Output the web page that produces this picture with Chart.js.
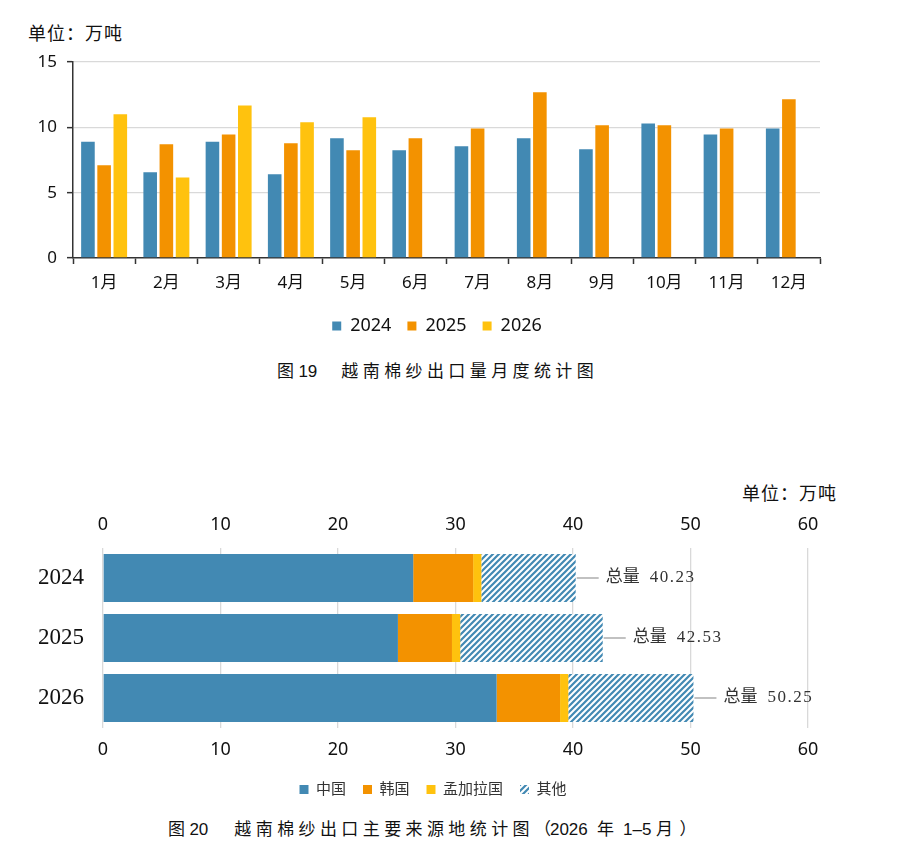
<!DOCTYPE html>
<html>
<head>
<meta charset="utf-8">
<script src="https://cdn.jsdelivr.net/npm/chart.js@4.4.1/dist/chart.umd.min.js"></script>
<style>
  html, body { margin: 0; padding: 0; background: #ffffff; }
  body { width: 897px; height: 850px; position: relative; overflow: hidden; }
  .abs { position: absolute; white-space: nowrap; color: #111; }
  .unit { font-family: "Noto Sans CJK SC", sans-serif; font-size: 18px; letter-spacing: 1px; line-height: 24px; }
  .cap { font-family: "Liberation Sans", "Noto Sans CJK SC", sans-serif; font-size: 17px; letter-spacing: 4.4px; line-height: 24px; }
  .num { letter-spacing: 0; }
  .tight { letter-spacing: -1px; }
  canvas { position: absolute; left: 0; }
</style>
</head>
<body>
<div class="abs unit" style="left:28px; top:20px;">单位：万吨</div>
<canvas id="c1" width="897" height="345" style="top:0px;"></canvas>
<div class="abs cap" style="left:277px; top:360px;">图<span class="num">19</span><span style="margin-left:24px;">越南棉纱出口量月度统计图</span></div>

<div class="abs unit" style="left:742px; top:480px;">单位：万吨</div>
<canvas id="c2" width="897" height="336" style="top:471px;"></canvas>
<div class="abs cap" style="left:168px; top:818px;">图<span class="num">20</span><span style="margin-left:26px;">越南棉纱出口主要来源地统计图<span class="tight">（</span><span class="num">2026</span> 年<span class="num">&nbsp;1–5&nbsp;</span>月<span style="margin-left:2px;">）</span></span></div>

<script>
// ---------- Chart 19 data: monthly cotton-yarn exports (10k tonnes) ----------
const months = ['1月', '2月', '3月', '4月', '5月', '6月', '7月', '8月', '9月', '10月', '11月', '12月'];
const seriesNames = ['2024', '2025', '2026'];
const exports2024 = [8.9, 6.56, 8.9, 6.4, 9.16, 8.24, 8.55, 9.16, 8.32, 10.3, 9.46, 9.92];
const exports2025 = [7.1, 8.7, 9.46, 8.78, 8.24, 9.16, 9.92, 12.68, 10.15, 10.15, 9.92, 12.14];
const exports2026 = [11.0, 6.17, 11.68, 10.38, 10.77, null, null, null, null, null, null, null];
const yTicks1 = [0, 5, 10, 15];

// ---------- Chart 20 data: main destinations, Jan–May ----------
const periods = ['2024', '2025', '2026'];
const originNames = ['中国', '韩国', '孟加拉国', '其他'];
const chinaVals = [26.4, 25.1, 33.5];
const koreaVals = [5.1, 4.6, 5.4];
const bangladeshVals = [0.7, 0.7, 0.7];
const otherVals = [8.03, 12.13, 10.65];
const totalVals = [40.23, 42.53, 50.25];
const xTicks2 = [0, 10, 20, 30, 40, 50, 60];

// ---------- styles ----------
const BLUE = '#4289B3';
const ORANGE = '#F39200';
const YELLOW = '#FFC20E';
const SANS = '"Noto Sans", "Noto Sans CJK SC", sans-serif';
const SERIF = '"Liberation Serif", "Noto Sans CJK SC", serif';
const AXIS = '#333333';
const GRID = '#d9d9d9';

function hatch(color) {
  const s = 6;
  const c = document.createElement('canvas');
  c.width = s; c.height = s;
  const g = c.getContext('2d');
  g.fillStyle = '#ffffff';
  g.fillRect(0, 0, s, s);
  g.strokeStyle = color;
  g.lineWidth = 2.2;
  g.beginPath();
  g.moveTo(0, s); g.lineTo(s, 0);
  g.moveTo(-s / 2, s / 2); g.lineTo(s / 2, -s / 2);
  g.moveTo(s / 2, s * 1.5); g.lineTo(s * 1.5, s / 2);
  g.stroke();
  return g.createPattern(c, 'repeat');
}

// shifts the legend box horizontally (legend centring is otherwise tied to layout padding)
function legendShift(dx) {
  return {
    id: 'legendShift',
    afterLayout(chart) {
      if (chart.legend) { chart.legend.left += dx; chart.legend.right += dx; }
    }
  };
}

Chart.defaults.color = '#111';
Chart.defaults.animation = false;

// ---------- Chart 19 ----------
new Chart(document.getElementById('c1'), {
  type: 'bar',
  data: {
    labels: months,
    datasets: [
      { label: seriesNames[0], data: exports2024, backgroundColor: BLUE },
      { label: seriesNames[1], data: exports2025, backgroundColor: ORANGE },
      { label: seriesNames[2], data: exports2026, backgroundColor: YELLOW }
    ]
  },
  options: {
    responsive: false,
    animation: false,
    categoryPercentage: 0.78,
    barPercentage: 0.84,
    layout: { padding: { top: 62, left: 0, right: 77, bottom: 0 } },
    plugins: {
      tooltip: { enabled: false },
      legend: {
        position: 'bottom',
        labels: {
          boxWidth: 9, boxHeight: 9, padding: 16, color: '#111',
          font: { family: SANS, size: 18 }
        }
      }
    },
    scales: {
      x: {
        grid: { display: true, drawOnChartArea: false, drawTicks: true, tickLength: 6, tickColor: AXIS, tickWidth: 1.5, offset: true },
        border: { display: true, color: AXIS, width: 1.5 },
        ticks: { color: '#111', font: { family: SANS, size: 17 }, padding: 9, maxRotation: 0, autoSkip: false },
        afterFit(s) { s.height = 43; }
      },
      y: {
        min: 0, max: 15,
        afterBuildTicks(s) { s.ticks = yTicks1.map(v => ({ value: v })); },
        grid: {
          color: c => (c.tick && c.tick.value === 0) ? 'rgba(0,0,0,0)' : GRID,
          lineWidth: 1.3, drawTicks: true, tickLength: 6, tickColor: AXIS, tickWidth: 1.5
        },
        border: { display: true, color: AXIS, width: 1.5 },
        ticks: { color: '#111', font: { family: SANS, size: 17 }, padding: 10 },
        afterFit(s) { s.width = 73; }
      }
    }
  },
  plugins: [legendShift(27)]
});

// ---------- Chart 20 ----------
const totalLabels = {
  id: 'totalLabels',
  afterDatasetsDraw(chart) {
    const ctx = chart.ctx;
    const meta = chart.getDatasetMeta(chart.data.datasets.length - 1);
    ctx.save();
    meta.data.forEach((bar, i) => {
      const x = bar.x, y = bar.y;
      ctx.strokeStyle = '#a0a0a0';
      ctx.lineWidth = 1.3;
      ctx.beginPath();
      ctx.moveTo(x + 1, y);
      ctx.lineTo(x + 23, y);
      ctx.stroke();
      ctx.fillStyle = '#333';
      ctx.textBaseline = 'middle';
      ctx.textAlign = 'left';
      ctx.font = '17px ' + SERIF;
      ctx.fillText('总量', x + 30, y);
      if ('letterSpacing' in ctx) ctx.letterSpacing = '1.5px';
      ctx.fillText(totalVals[i].toFixed(2), x + 74, y);
      if ('letterSpacing' in ctx) ctx.letterSpacing = '0px';
    });
    ctx.restore();
  }
};

new Chart(document.getElementById('c2'), {
  type: 'bar',
  data: {
    labels: periods,
    datasets: [
      { label: originNames[0], data: chinaVals, backgroundColor: BLUE },
      { label: originNames[1], data: koreaVals, backgroundColor: ORANGE },
      { label: originNames[2], data: bangladeshVals, backgroundColor: YELLOW },
      { label: originNames[3], data: otherVals, backgroundColor: hatch(BLUE) }
    ]
  },
  options: {
    indexAxis: 'y',
    responsive: false,
    animation: false,
    categoryPercentage: 1.0,
    barPercentage: 0.8,
    layout: { padding: { top: 43, left: 0, right: 89, bottom: 0 } },
    plugins: {
      tooltip: { enabled: false },
      legend: {
        position: 'bottom',
        labels: {
          boxWidth: 9, boxHeight: 9, padding: 17, color: '#333',
          font: { family: SANS, size: 15 }
        }
      }
    },
    scales: {
      x: {
        type: 'linear', position: 'bottom', stacked: true, min: 0, max: 60,
        afterBuildTicks(s) { s.ticks = xTicks2.map(v => ({ value: v })); },
        grid: { color: GRID, lineWidth: 1.3, drawTicks: false },
        border: { display: false },
        ticks: { color: '#111', font: { family: SANS, size: 18 }, padding: 11 },
        afterFit(s) { s.height = 37; }
      },
      x2: {
        type: 'linear', position: 'top', min: 0, max: 60,
        afterBuildTicks(s) { s.ticks = xTicks2.map(v => ({ value: v })); },
        grid: { display: false, drawTicks: false },
        border: { display: false },
        ticks: { color: '#111', font: { family: SANS, size: 18 }, padding: 12 },
        afterFit(s) { s.height = 34; }
      },
      y: {
        stacked: true,
        grid: { display: false, drawTicks: false },
        border: { display: false },
        ticks: { color: '#111', font: { family: '"Liberation Serif", serif', size: 23 }, padding: 19 },
        afterFit(s) { s.width = 103; }
      }
    }
  },
  plugins: [totalLabels, legendShift(29)]
});
</script>
</body>
</html>
